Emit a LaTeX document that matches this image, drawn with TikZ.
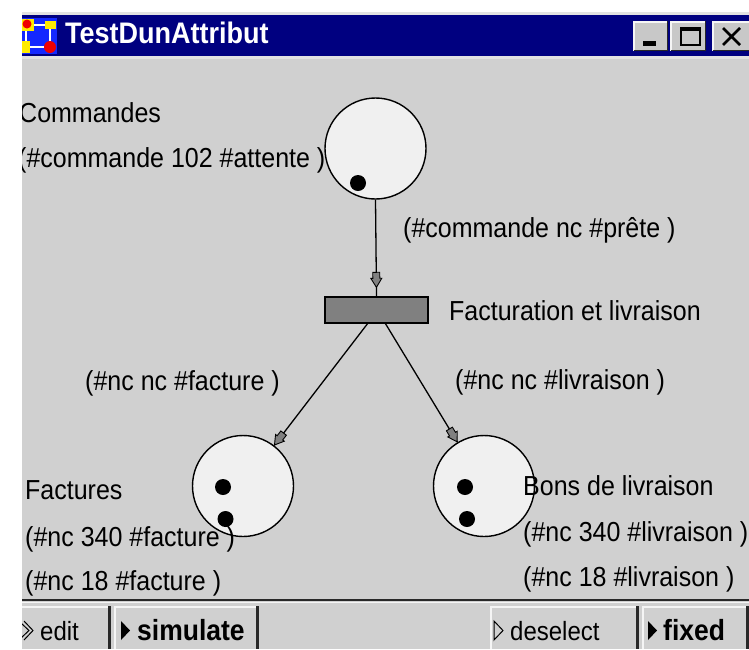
\documentclass[tikz,border=0pt]{standalone}
\usepackage{fontspec}
\setmainfont{Liberation Sans}
\usetikzlibrary{decorations.markings}

\definecolor{winbg}{RGB}{208,208,208}
\definecolor{framegray}{RGB}{226,226,226}
\definecolor{titlebar}{RGB}{0,0,128}
\definecolor{placefill}{RGB}{240,240,240}
\definecolor{transfill}{RGB}{128,128,128}
\definecolor{btnface}{RGB}{200,200,200}
\definecolor{btnlight}{RGB}{245,245,245}
\definecolor{btndark}{RGB}{40,40,40}
\definecolor{iconblue}{RGB}{20,40,255}
\definecolor{iconyellow}{RGB}{255,235,0}
\definecolor{iconred}{RGB}{240,0,0}

% screen font: slightly taller than it is wide
\newcommand{\tall}[1]{\scalebox{1}[1.1]{#1}}

\begin{document}
\begin{tikzpicture}[x=1pt,y=-1pt,
  place/.style={circle,draw=black,line width=1.4pt,fill=placefill,
                minimum size=101pt,inner sep=0pt},
  token/.style={circle,fill=black,minimum size=16pt,inner sep=0pt},
  transition/.style={rectangle,draw=black,line width=1.4pt,fill=transfill,
                     minimum width=103pt,minimum height=26pt,inner sep=0pt},
  lbl/.style={anchor=base west,inner sep=0pt,font=\fontsize{25}{30}\selectfont},
  btnlbl/.style={anchor=base west,inner sep=0pt,font=\fontsize{24}{28}\selectfont},
  btnbold/.style={btnlbl,font=\bfseries\fontsize{26.5}{30}\selectfont},
  netarc/.style={line width=1.3pt,postaction={decorate},
    decoration={markings,mark=at position #1 with {
      \draw[fill=transfill,line width=0.9pt,line join=miter]
        (-15pt,-3.5pt) -- (-9pt,-3.5pt) -- (-9pt,-5.5pt) -- (0pt,0pt)
        -- (-9pt,5.5pt) -- (-9pt,3.5pt) -- (-15pt,3.5pt) -- cycle;}}},
]
\useasboundingbox (0,0) rectangle (749,649);
\fill[white] (0,0) rectangle (749,649);

% window frame and title bar
\fill[framegray] (22,12) rectangle (749,649);
\fill[titlebar] (22,15) rectangle (749,56);
\fill[winbg] (22,59) rectangle (749,649);

% application icon
\fill[iconblue] (22,18) rectangle (57,54);
\draw[white,line width=1.5pt] (28,25) -- (50,25) -- (50,47) -- (26,47) -- (26,25);
\fill[iconyellow] (22,19) rectangle (34,31);
\fill[iconred] (27,24) circle (4.5);
\fill[iconyellow] (45,21) rectangle (56,29);
\fill[iconyellow] (22,41) rectangle (30,53);
\fill[iconred] (50,47) circle (6);

\node[anchor=base west,inner sep=0pt,text=white,
      font=\bfseries\fontsize{27}{32}\selectfont] (title) at (65,43) {\tall{TestDunAttribut}};

% caption buttons
\foreach \xa/\xb in {633/668, 670/706, 712/752}{
  \fill[btnface] (\xa,21) rectangle (\xb,51);
  \draw[btnlight,line width=1.5pt] (\xa+0.75,51) -- (\xa+0.75,21.75) -- (\xb,21.75);
  \draw[btndark,line width=1.5pt] (\xa+0.75,50.25) -- (\xb-0.75,50.25) -- (\xb-0.75,21);
}
\fill[black] (643,41) rectangle (656,45.5);
\draw[black,line width=2pt] (681,28) rectangle (700,45);
\draw[black,line width=3.5pt] (681,29) -- (700,29);
\draw[black,line width=2.6pt] (723,28) -- (740,45) (740,28) -- (723,45);

\begin{scope}
\clip (22,59) rectangle (749,649);

% places, tokens and the transition
\node[place] (cmd) at (375.5,148.5) {};
\node[token] (cmdtok) at (358,183) {};
\node[transition] (trans) at (376.5,310) {};
\node[place] (fac) at (243,486) {};
\node[token] (factok1) at (223,487) {};
\node[token] (factok2) at (225.5,519) {};
\node[place] (bon) at (484,486) {};
\node[token] (bontok1) at (465,487) {};
\node[token] (bontok2) at (467,519) {};

% arcs
\draw[netarc=-9pt] (cmd.south) -- (trans.north);
\draw[netarc=-0.5pt] ([xshift=-9pt]trans.south) -- (fac);
\draw[netarc=-0.5pt] ([xshift=9pt]trans.south) -- (bon);

% labels
\node[lbl] (lcmd) at (19,122) {\tall{Commandes}};
\node[lbl] (lcmdm) at (18,167) {\tall{(\#commande 102 \#attente )}};
\node[lbl] (larc1) at (403,237) {\tall{(\#commande nc \#prête )}};
\node[lbl] (ltrans) at (449,320) {\tall{Facturation et livraison}};
\node[lbl] (larc2) at (85,390) {\tall{(\#nc nc \#facture )}};
\node[lbl] (larc3) at (455,389) {\tall{(\#nc nc \#livraison )}};
\node[lbl] (lfac) at (25,499) {\tall{Factures}};
\node[lbl] (lfacm1) at (25,546) {\tall{(\#nc 340 \#facture )}};
\node[lbl] (lfacm2) at (25,590) {\tall{(\#nc 18 \#facture )}};
\node[lbl] (lbon) at (523,495) {\tall{Bons de livraison}};
\node[lbl] (lbonm1) at (523,541) {\tall{(\#nc 340 \#livraison )}};
\node[lbl] (lbonm2) at (523,586) {\tall{(\#nc 18 \#livraison )}};

% tool bar
\draw[btndark,line width=2.2pt] (22,600) -- (749,600);
\draw[btnlight,line width=1.2pt] (22,602.5) -- (749,602.5);

\fill[btnlight] (22,606) rectangle (109,608);
\fill[btndark] (108,606) rectangle (110.5,649);

\fill[btnlight] (114,606) rectangle (258,608);
\fill[btnlight] (114,606) rectangle (116,649);
\fill[btndark] (255.5,606) rectangle (258.5,649);

\fill[btnlight] (490,606) rectangle (637,608);
\fill[btnlight] (490,606) rectangle (492,649);
\fill[btndark] (636,606) rectangle (638.5,649);

\fill[btnlight] (642,606) rectangle (749,608);
\fill[btnlight] (642,606) rectangle (644,649);
\fill[btndark] (746,606) rectangle (748.5,649);

\draw[black,line width=1pt] (24,621) -- (33,630.5) -- (24,640);
\draw[black,line width=1pt] (21,623) -- (29,630.5) -- (21,638);
\node[btnlbl] (bedit) at (40,640) {\tall{edit}};

\fill[black] (121,621) -- (130,630.5) -- (121,640) -- cycle;
\node[btnbold] (bsim) at (137,640) {\tall{simulate}};

\draw[black,line width=1pt] (494,621) -- (503,630.5) -- (494,640) -- cycle;
\node[btnlbl] (bdesel) at (510,640) {\tall{deselect}};

\fill[black] (648,621) -- (657,630.5) -- (648,640) -- cycle;
\node[btnbold] (bfix) at (663,640) {\tall{fixed}};
\end{scope}
\end{tikzpicture}
\end{document}
